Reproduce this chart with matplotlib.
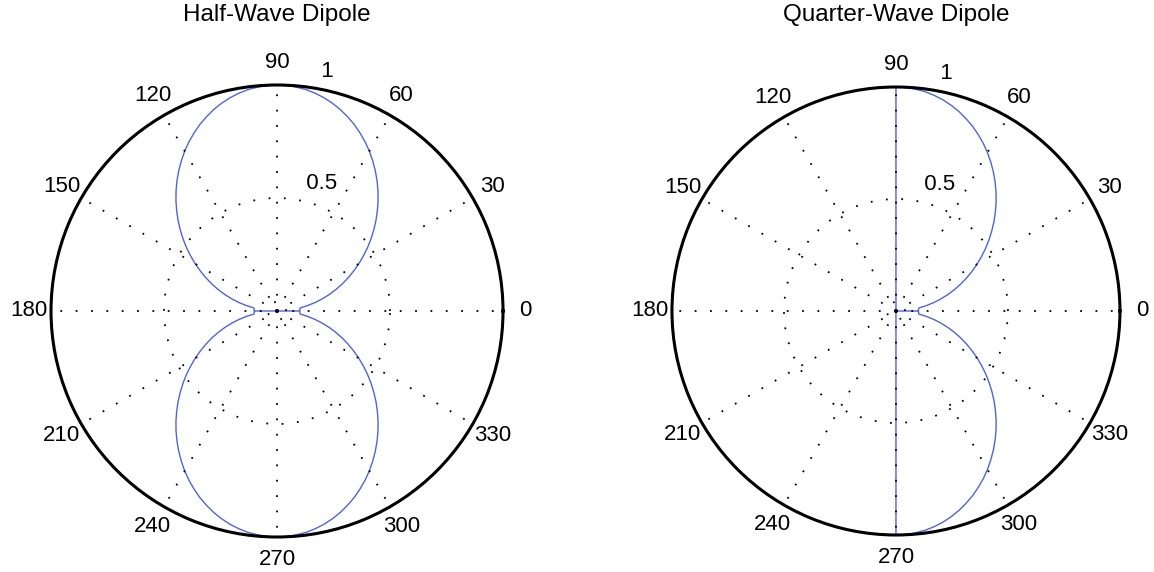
import numpy as np
import matplotlib
matplotlib.use("Agg")
import matplotlib.pyplot as plt

plt.rcParams['font.family'] = ['Liberation Sans', 'DejaVu Sans']

# one quadrant of the dipole pattern (angle in degrees, radius)
quad_angle = [0, 7.5, 10, 12.5, 15, 17.5, 20, 22.5, 25, 27.5, 30, 32.5, 35, 37.5, 40, 42.5,
              45, 47.5, 50, 52.5, 55, 57.5, 60, 62.5, 65, 67.5, 70, 72.5, 75, 77.5, 80,
              82.5, 85, 87.5, 90]
quad_r = [0.100, 0.103, 0.137, 0.172, 0.207, 0.242, 0.277, 0.312, 0.347, 0.382, 0.418, 0.453,
          0.489, 0.524, 0.559, 0.594, 0.628, 0.662, 0.695, 0.727, 0.758, 0.788, 0.817, 0.844,
          0.869, 0.893, 0.914, 0.934, 0.951, 0.966, 0.978, 0.988, 0.994, 0.999, 1.000]

# the pattern is symmetric about both axes, so the other quadrants reuse the same readings
upper_angle = quad_angle + [180 - a for a in quad_angle[::-1]]
upper_r = quad_r + quad_r[::-1]
lower_angle = [180 + a for a in quad_angle] + [360 - a for a in quad_angle[::-1]]
lower_r = quad_r + quad_r[::-1]

# half-wave: trace starts on the 180 side, crosses the centre, then goes round
half_angle = [180] + upper_angle + lower_angle
half_r = [0.10] + upper_r + lower_r

# quarter-wave: only the right half, the left half collapses onto the centre
right_low_angle = [360 - a for a in quad_angle[::-1]]
quarter_angle = [180] + quad_angle + [180] + right_low_angle
quarter_r = [0.0] + quad_r + [0.0] + quad_r[::-1]

theta_ticks = list(range(0, 360, 30))
r_ticks = [0.5, 1]
titles = ['Half-Wave Dipole', 'Quarter-Wave Dipole']

fig = plt.figure(figsize=(11.54, 5.72), dpi=100)

boxes = [[0.0442, 0.0612, 0.3917, 0.7902], [0.5823, 0.0647, 0.3882, 0.7832]]
title_x = [0.240, 0.777]
curves = [(half_angle, half_r), (quarter_angle, quarter_r)]
blue = '#5163d8'
dots = (0, (1, 7.5))

for i in range(2):
    ax = fig.add_axes(boxes[i], projection='polar')
    ax.set_ylim(0, 1)
    ax.set_axisbelow(False)
    ax.set_thetagrids(theta_ticks, labels=[''] * len(theta_ticks))
    ax.set_rgrids([0.04, 0.5], labels=['', ''])
    ax.grid(True, color='k', linestyle=dots, linewidth=1.3)
    ax.spines['polar'].set_linewidth(2.2)
    ax.spines['polar'].set_color('k')
    ax.tick_params(length=0, pad=0)

    th, rr = curves[i]
    ax.plot(np.deg2rad(th), rr, color=blue, linewidth=1.0, zorder=1)

    # angle labels
    for t in theta_ticks:
        ax.text(np.deg2rad(t), 1.1, str(t), ha='center', va='center', fontsize=16)
    # radius labels
    for r in r_ticks:
        ax.text(np.deg2rad(82), r + 0.025, '  ' + str(r), ha='left', va='bottom', fontsize=16)

    fig.text(title_x[i], 0.974, titles[i], ha='center', va='center', fontsize=17.5)

fig.savefig('out.png', dpi=100)
